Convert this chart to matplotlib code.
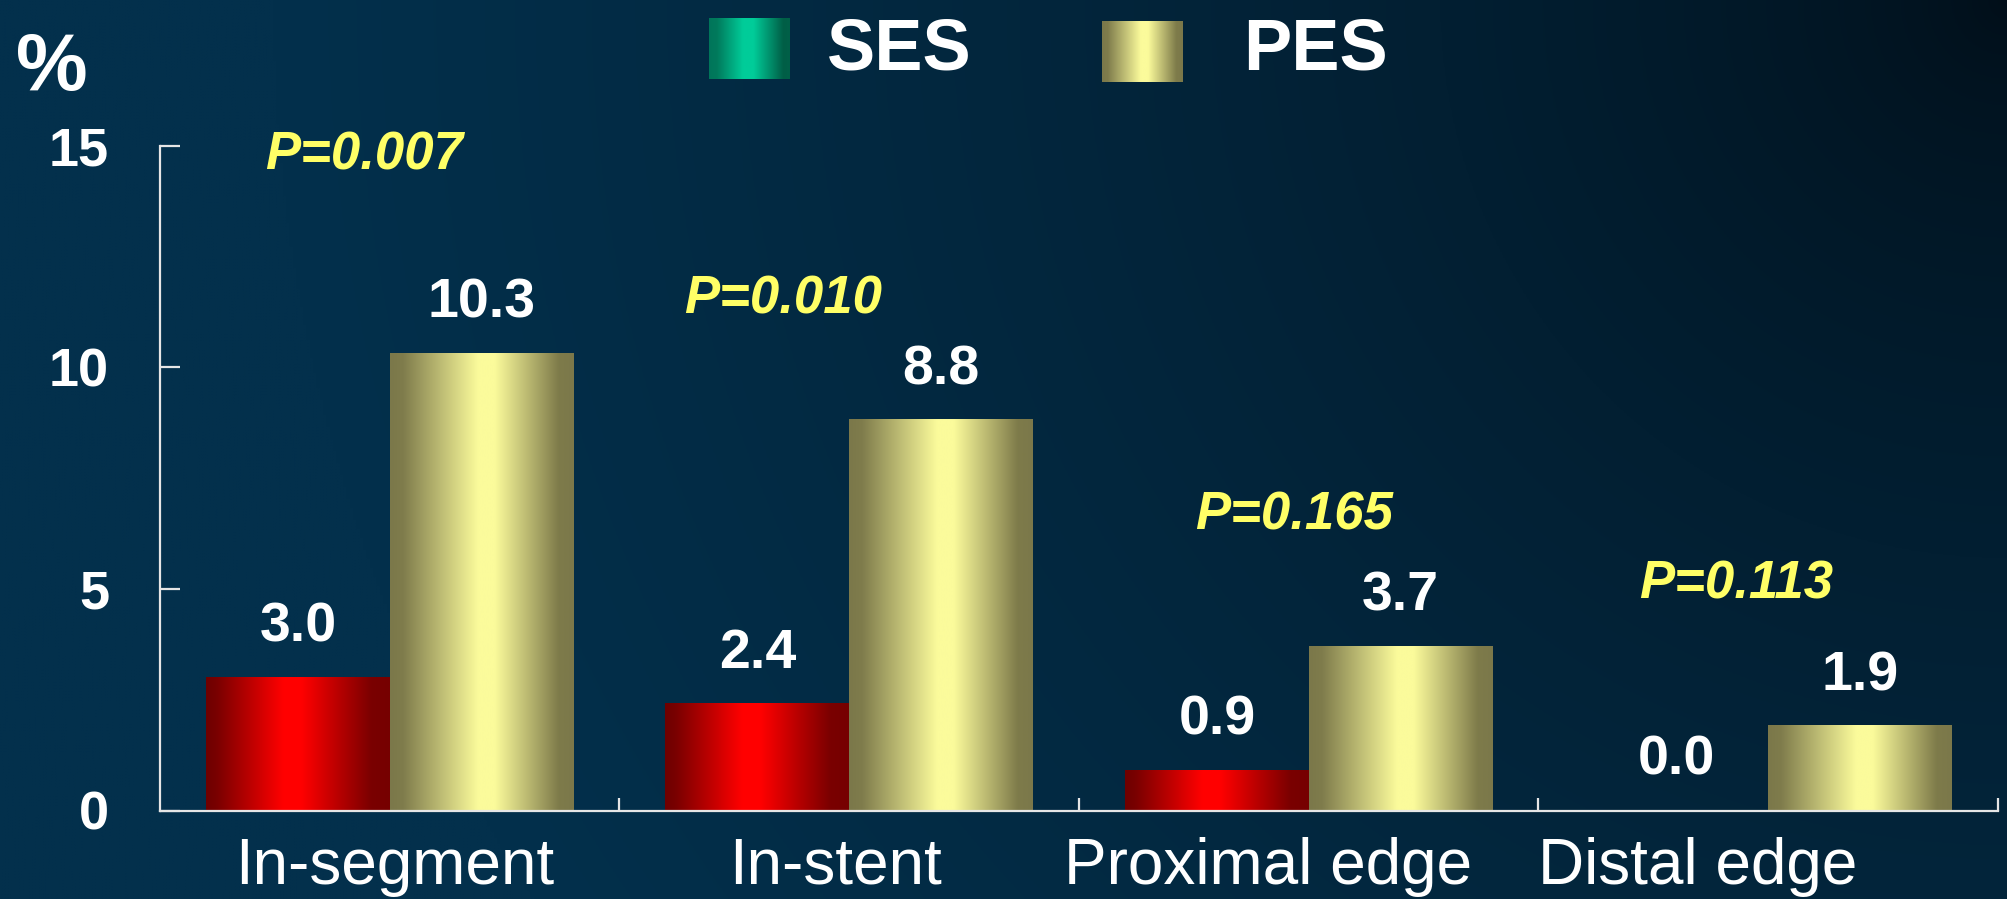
import numpy as np
import matplotlib
matplotlib.use("Agg")
import matplotlib.pyplot as plt
from matplotlib.colors import LinearSegmentedColormap, to_rgb
from matplotlib.ticker import FixedLocator

# ---- data ----
categories = ["In-segment", "In-stent", "Proximal edge", "Distal edge"]
ses_values = [3.0, 2.4, 0.9, 0.0]
pes_values = [10.3, 8.8, 3.7, 1.9]
p_labels = ["P=0.007", "P=0.010", "P=0.165", "P=0.113"]
series_names = ["SES", "PES"]
y_ticks = [0, 5, 10, 15]

# placement of the p-value annotations (group offset, height in axis units)
p_dx = [-0.055, -0.143, -0.032, -0.069]
p_y = [14.47, 11.22, 6.35, 4.79]
# horizontal shift of each category label from its group centre
label_dx = [0.011, -0.031, -0.089, -0.153]

plt.rcParams["font.family"] = ["Liberation Sans", "DejaVu Sans"]

W, H = 2008, 899
fig = plt.figure(figsize=(W / 100, H / 100), dpi=100)

# ---- dark navy backdrop, darkest toward the top-right corner ----
bg_ax = fig.add_axes([0, 0, 1, 1], zorder=-10)
gy, gx = np.mgrid[0:1:300j, 0:1:600j]
dist = np.sqrt(((1 - gx) * 2.2) ** 2 + (gy * 1.0) ** 2)
t = np.clip(dist / 1.9, 0, 1) ** 0.62
dark = np.array(to_rgb("#010e18"))
light = np.array(to_rgb("#03304c"))
bg = dark[None, None, :] + (light - dark)[None, None, :] * t[..., None]
bg_ax.imshow(bg, extent=[0, 1, 0, 1], aspect="auto", origin="upper")
bg_ax.set_axis_off()


def shade_cmap(name, stops):
    return LinearSegmentedColormap.from_list(name, stops)


red_cmap = shade_cmap("red_bar", [(0, "#6e0000"), (0.06, "#7a0000"), (0.42, "#ff0000"),
                                  (0.52, "#ff0000"), (0.9, "#7a0000"), (1, "#760000")])
yellow_cmap = shade_cmap("yellow_bar", [(0, "#7b784a"), (0.07, "#7f7c4c"), (0.48, "#fbfb9b"),
                                        (0.57, "#fbfb9b"), (0.92, "#7e7b4a"), (1, "#7b784a")])
green_cmap = shade_cmap("green_key", [(0, "#00755a"), (0.1, "#007a5c"), (0.42, "#00cc99"),
                                      (0.55, "#00cc99"), (0.92, "#005e46"), (1, "#006048")])
ramp = np.linspace(0, 1, 256)[None, :]

# ---- main axes ----
ax = fig.add_axes([160 / W, (H - 810.5) / H, 1838 / W, 664.8 / H])
ax.set_facecolor("none")

x = np.arange(len(categories))
width = 0.4
bars_ses = ax.bar(x - width / 2, ses_values, width, color="none", edgecolor="none", zorder=2)
bars_pes = ax.bar(x + width / 2, pes_values, width, color="none", edgecolor="none", zorder=2)

for bars, cmap in ((bars_ses, red_cmap), (bars_pes, yellow_cmap)):
    for patch in bars:
        h = patch.get_height()
        if h <= 0:
            continue
        x0 = patch.get_x()
        ax.imshow(ramp, cmap=cmap, extent=[x0, x0 + patch.get_width(), 0, h],
                  aspect="auto", zorder=2, interpolation="bilinear")

# value labels above each bar
for bars, vals in ((bars_ses, ses_values), (bars_pes, pes_values)):
    for patch, v in zip(bars, vals):
        ax.annotate(f"{v:.1f}", (patch.get_x() + patch.get_width() / 2, v),
                    xytext=(0, 26), textcoords="offset points", ha="center",
                    va="baseline", fontsize=40, fontweight="bold", color="white", zorder=4)

# p-values
for i, (lab, dx, yy) in enumerate(zip(p_labels, p_dx, p_y)):
    ax.text(x[i] + dx, yy, lab, ha="center", va="baseline", fontsize=38,
            fontweight="bold", fontstyle="italic", color="#ffff66", zorder=4)

ax.set_xlim(-0.5, len(categories) - 0.5)
ax.set_ylim(0, 15)

axis_col = "#e6e6e6"
for side in ("top", "right"):
    ax.spines[side].set_visible(False)
for side in ("left", "bottom"):
    ax.spines[side].set_color(axis_col)
    ax.spines[side].set_linewidth(1.6)

ax.set_yticks(y_ticks)
ax.set_yticklabels([str(v) for v in y_ticks])
ax.tick_params(axis="y", direction="in", length=14.4, width=1.6, color=axis_col,
               pad=36.7, labelsize=39, labelcolor="white")
for lbl in ax.get_yticklabels():
    lbl.set_fontweight("bold")

ax.set_xticks(x + np.array(label_dx))
ax.set_xticklabels(categories)
ax.tick_params(axis="x", which="major", length=0, pad=19, labelsize=46, labelcolor="white")
ax.xaxis.set_minor_locator(FixedLocator(x + 0.5))
ax.tick_params(axis="x", which="minor", direction="in", length=9.4, width=1.6, color=axis_col)

# ---- unit and legend ----
fig.text(52 / W, (H - 90) / H, "%", ha="center", va="baseline", fontsize=58,
         fontweight="bold", color="white")

legend_specs = [
    (series_names[0], green_cmap, (709, 18, 81, 61), (827, 69)),
    (series_names[1], yellow_cmap, (1102, 21, 81, 61), (1243, 69)),
]
for name, cmap, (px, py, pw, ph), (tx, ty) in legend_specs:
    kax = fig.add_axes([px / W, (H - py - ph) / H, pw / W, ph / H])
    kax.imshow(ramp, cmap=cmap, aspect="auto", interpolation="bilinear")
    kax.set_axis_off()
    fig.text(tx / W, (H - ty) / H, name, ha="left", va="baseline", fontsize=52,
             fontweight="bold", color="white")

fig.savefig("out.png", dpi=100)
